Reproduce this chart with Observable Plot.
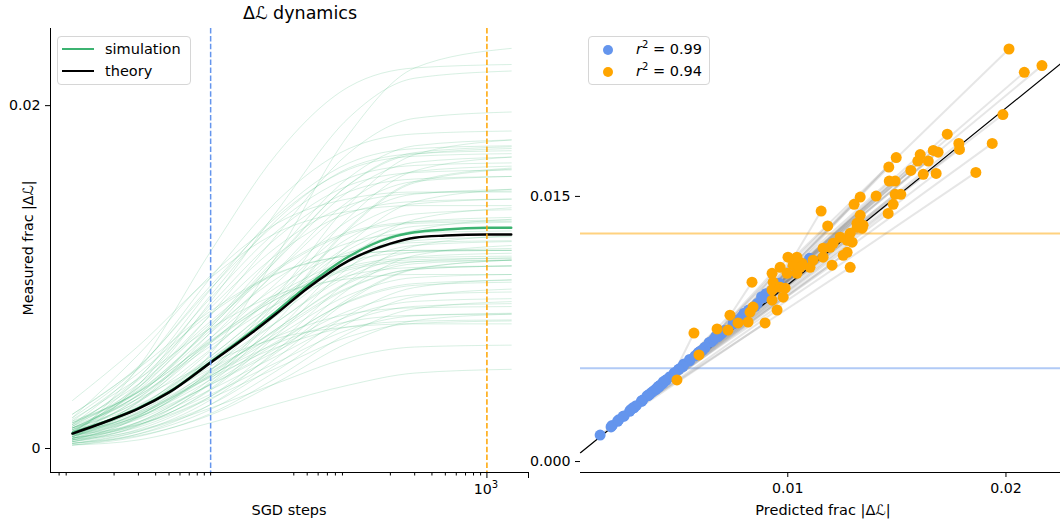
<!DOCTYPE html>
<html><head><meta charset="utf-8">
<script src="https://cdn.jsdelivr.net/npm/d3@7"></script>
<script src="https://cdn.jsdelivr.net/npm/@observablehq/plot@0.6"></script>
<style>
body{margin:0;background:#fff;font-family:"DejaVu Sans",sans-serif;}
#wrap{position:relative;width:1060px;height:523px;overflow:hidden;background:#fff;}
#wrap svg{position:absolute;top:0;}
.lbl{position:absolute;font-size:14.5px;line-height:17px;color:#000;white-space:nowrap;}
.legend{position:absolute;background:rgba(255,255,255,0.8);border:1px solid #d6d6d6;border-radius:4px;}
.legend .t{position:absolute;font-size:14.5px;line-height:16px;white-space:nowrap;color:#000;}
</style></head><body><div id="wrap"></div>
<script>
// ---- left panel: trajectories (times in SGD steps) ----
const simTimes = [1, 3, 10, 30, 100, 300, 1500];
const simAt1 = [0.0005,0.0006,0.0010,0.0012,0.0008,0.0006,0.0014,0.0011,0.0009,0.0018,0.0020,0.0007,0.0012,0.0005,0.0010,0.0015,0.0008,0.0013,0.0004,0.0016,0.0009,0.0011,0.0006,0.0014,0.0018,0.0010,0.0007,0.0005,0.0028,0.0015,0.0012,0.0008,0.0006,0.0010,0.0013,0.0009,0.0007,0.0011,0.0004,0.0012,0.0008,0.0010,0.0003,0.0006,0.0002,0.0005,0.0009,0.0011,0.0007,0.0014,0.0016,0.0012,0.0020,0.0015,0.0010,0.0013,0.0009,0.0006,0.0008,0.0017,0.0008,0.0005,0.0004,0.0003,0.0007,0.0002,0.0003,0.0009,0.0006,0.0005,0.0007,0.0004,0.0008,0.0010,0.0012,0.0003,0.0002];
const simAt3 = [0.00187,0.00474,0.00352,0.00341,0.00183,0.00155,0.00465,0.00313,0.00408,0.00473,0.00479,0.00273,0.00316,0.0037,0.00196,0.00336,0.00268,0.00414,0.00135,0.00331,0.00374,0.00278,0.00147,0.00399,0.00548,0.00357,0.00236,0.00131,0.00598,0.00375,0.00273,0.00232,0.00137,0.00246,0.00357,0.00234,0.00212,0.0033,0.00112,0.00254,0.00295,0.00233,0.00099,0.00193,0.00085,0.00177,0.00293,0.00233,0.00193,0.00327,0.00439,0.00308,0.00468,0.0033,0.00216,0.00308,0.00201,0.00181,0.00141,0.00407,0.00187,0.00106,0.00153,0.00084,0.00171,0.0007,0.00075,0.00184,0.00154,0.00139,0.00206,0.00124,0.00207,0.00238,0.0029,0.00099,0.0005];
const simAt10 = [0.00552,0.0115,0.00857,0.00783,0.00458,0.00407,0.00996,0.00718,0.00928,0.0095,0.00933,0.00678,0.00707,0.00894,0.00452,0.00708,0.00644,0.00878,0.0039,0.00674,0.00839,0.00615,0.00379,0.00821,0.01009,0.00778,0.00569,0.00348,0.00996,0.00742,0.00578,0.00536,0.00341,0.00539,0.00728,0.00522,0.00496,0.0069,0.00304,0.00521,0.00646,0.00499,0.00284,0.00459,0.00257,0.00432,0.00623,0.0048,0.0044,0.00631,0.00787,0.00616,0.00802,0.00625,0.00447,0.00598,0.00423,0.00422,0.00304,0.00702,0.004,0.00256,0.00379,0.00228,0.00373,0.00204,0.00196,0.00372,0.00343,0.00316,0.00427,0.00293,0.00415,0.00464,0.00502,0.00236,0.0015];
const simAt30 = [0.01123,0.01717,0.01382,0.01244,0.00888,0.00801,0.01441,0.01141,0.01364,0.0135,0.01314,0.01101,0.01114,0.01332,0.00852,0.01096,0.01036,0.01266,0.00787,0.0103,0.01228,0.00965,0.00742,0.01175,0.01312,0.0113,0.00915,0.00686,0.01258,0.01049,0.00897,0.00853,0.0066,0.00844,0.01038,0.00823,0.00791,0.00991,0.00604,0.008,0.0094,0.00775,0.00572,0.00735,0.00527,0.00697,0.009,0.00738,0.00698,0.00886,0.01017,0.00873,0.01022,0.00871,0.00689,0.00841,0.00654,0.00673,0.00559,0.00897,0.00623,0.0049,0.00614,0.00453,0.00584,0.00413,0.00384,0.00568,0.00539,0.00501,0.00613,0.00469,0.00589,0.00653,0.00642,0.0038,0.0026];
const simAt100 = [0.01832,0.0211,0.01929,0.01723,0.01422,0.01289,0.01749,0.0158,0.01665,0.01628,0.01578,0.0154,0.01538,0.01636,0.01348,0.01499,0.01443,0.01535,0.0128,0.01401,0.01497,0.0133,0.01193,0.0142,0.01457,0.01374,0.01275,0.01106,0.01383,0.01262,0.01228,0.01183,0.01056,0.01161,0.01253,0.01135,0.01098,0.01199,0.00977,0.0109,0.01144,0.01063,0.0093,0.01023,0.00862,0.00973,0.01092,0.01005,0.00965,0.01063,0.01126,0.01052,0.01127,0.01042,0.0094,0.01009,0.00895,0.00934,0.00875,0.0099,0.00854,0.0078,0.00859,0.00732,0.00803,0.00673,0.00618,0.00772,0.00743,0.00693,0.00741,0.00652,0.0071,0.00784,0.00709,0.00529,0.0037];
const simAt300 = [0.0222,0.0222,0.0216,0.01926,0.01714,0.01557,0.01835,0.01766,0.01749,0.01705,0.01651,0.01726,0.01717,0.0172,0.0162,0.01669,0.01616,0.0161,0.0155,0.01558,0.01572,0.01484,0.01439,0.01488,0.01496,0.01441,0.01427,0.01336,0.01417,0.01321,0.01368,0.01323,0.01273,0.01296,0.01313,0.01267,0.01228,0.01257,0.01181,0.01213,0.01201,0.01185,0.01126,0.01145,0.01045,0.0109,0.01145,0.01118,0.01078,0.01112,0.01156,0.01101,0.01156,0.0109,0.01046,0.01056,0.00997,0.01045,0.01048,0.01015,0.00952,0.00939,0.00962,0.00885,0.00896,0.00815,0.00746,0.00858,0.00829,0.00774,0.00777,0.0073,0.00743,0.00821,0.00727,0.00592,0.0044];
const simAt1500 = [0.02334,0.0224,0.02202,0.01963,0.018,0.01636,0.01852,0.018,0.01766,0.0172,0.01666,0.0176,0.0175,0.01737,0.017,0.017,0.01647,0.01625,0.0163,0.01587,0.01587,0.01512,0.01512,0.01502,0.01496,0.01455,0.01455,0.01404,0.01417,0.01333,0.01393,0.01348,0.01337,0.0132,0.01325,0.01291,0.01252,0.01269,0.01241,0.01235,0.01212,0.01207,0.01184,0.01167,0.01099,0.01111,0.01156,0.01139,0.01099,0.01122,0.01156,0.01111,0.01156,0.01099,0.01065,0.01065,0.01015,0.01065,0.01099,0.01015,0.0097,0.00986,0.00981,0.0093,0.00913,0.00857,0.00784,0.00874,0.00845,0.00789,0.00784,0.00744,0.0075,0.00828,0.00727,0.00603,0.00462];

const curveTimes = [1, 2, 3, 5, 10, 20, 30, 50, 100, 200, 300, 500, 1000, 1500];
const theoryValues = [0.00087,0.00175,0.00233,0.00327,0.00501,0.00676,0.00787,0.00933,0.01096,0.01195,0.0123,0.01242,0.01248,0.01248];
const meanValues = [0.0009,0.00176,0.00235,0.0033,0.00505,0.00685,0.008,0.00948,0.0112,0.0123,0.01261,0.01277,0.01287,0.01288];

const markTimes = [10, 1000];           // dashed verticals
const minorTicks = [0.8,0.9,2,3,4,5,6,7,8,9,10,40,50,60,70,80,90,200,300,400,500,600,700,800,900];
const majorTicks = [1000, 2000];
const xDomainLeft = [0.693, 2000];
const yDomainLeft = [-0.0014, 0.0245];
const yTicksLeft = [0, 0.02];

// ---- right panel: predicted vs measured ----
const predEarly = [0.00524,0.011,0.0082,0.0075,0.0044,0.00395,0.0095,0.0069,0.0089,0.009,0.0088,0.0065,0.0068,0.0086,0.0043,0.0067,0.0062,0.0085,0.00375,0.0064,0.008,0.0059,0.00365,0.0079,0.0096,0.0075,0.0055,0.00335,0.0095,0.0071,0.0055,0.00515,0.0033,0.0052,0.007,0.005,0.0048,0.0066,0.00295,0.005,0.0062,0.0048,0.00275,0.0044,0.0025,0.00415,0.006,0.0046,0.00425,0.0061,0.0076,0.0059,0.0077,0.006,0.0043,0.00575,0.0041,0.00405,0.0029,0.0067,0.00385,0.00245,0.00365,0.0022,0.0036,0.00195,0.0019,0.00355,0.0033,0.00305,0.0041,0.0028,0.004,0.00445,0.0048,0.00225,0.0014];
const predLate = [0.02014,0.02165,0.02084,0.01986,0.01937,0.01862,0.01731,0.01784,0.01787,0.01497,0.01463,0.01667,0.01689,0.01607,0.01596,0.01644,0.01564,0.01621,0.0168,0.01465,0.01492,0.01492,0.01518,0.01405,0.01332,0.01304,0.01483,0.0146,0.01153,0.01183,0.01332,0.01317,0.01345,0.01341,0.01318,0.01286,0.01272,0.0124,0.01295,0.01208,0.01194,0.01162,0.01272,0.01254,0.01286,0.01203,0.01162,0.01116,0.01102,0.01065,0.01042,0.01024,0.01001,0.00965,0.00997,0.00928,0.00933,0.01042,0.01056,0.00836,0.00928,0.00965,0.00988,0.00979,0.00928,0.00951,0.00896,0.00841,0.00827,0.00818,0.00772,0.00726,0.00676,0.00735,0.0057,0.00593,0.00492];
const meanEarly = 0.00528, meanLate = 0.0129;
const xDomainRight = [0.0005, 0.0225];
const yDomainRight = [-0.00062, 0.0245];
const xTicksRight = [0.01, 0.02];
const yTicksRight = [0, 0.015];
const r2Labels = ["0.99", "0.94"];

// ---- build tables ----
const simCols = [simAt1, simAt3, simAt10, simAt30, simAt100, simAt300, simAt1500];
const simRows = [];
simAt1.forEach((_, i) => simCols.forEach((col, j) => simRows.push({id: i, t: simTimes[j], v: col[i]})));
const theoryRows = curveTimes.map((t, i) => ({t, v: theoryValues[i]}));
const meanRows = curveTimes.map((t, i) => ({t, v: meanValues[i]}));
const pairs = predEarly.map((pe, i) => ({pe, me: simAt10[i], pl: predLate[i], ml: simAt1500[i]}));
const diag = xDomainRight.map(v => ({p: v, m: v}));

const svgStyle = {background: "transparent", fontFamily: "DejaVu Sans, sans-serif", fontSize: "14.2px", overflow: "visible", color: "#000"};

const left = Plot.plot({
  width: 540, height: 523, marginLeft: 50, marginRight: 12, marginTop: 28, marginBottom: 51,
  style: svgStyle,
  x: {type: "log", domain: xDomainLeft},
  y: {domain: yDomainLeft},
  marks: [
    Plot.line(simRows, {x: "t", y: "v", z: "id", stroke: "mediumseagreen", strokeOpacity: 0.2, strokeWidth: 1, curve: "monotone-x"}),
    Plot.line(meanRows, {x: "t", y: "v", stroke: "mediumseagreen", strokeWidth: 2.5, curve: "monotone-x"}),
    Plot.line(theoryRows, {x: "t", y: "v", stroke: "black", strokeWidth: 2.5, curve: "monotone-x"}),
    Plot.ruleX([markTimes[0]], {stroke: "cornflowerblue", strokeWidth: 1.5, strokeDasharray: "5.5,2.4"}),
    Plot.ruleX([markTimes[1]], {stroke: "orange", strokeWidth: 1.5, strokeDasharray: "5.5,2.4"}),
    Plot.ruleX([xDomainLeft[0]], {stroke: "black", strokeWidth: 1}),
    Plot.ruleY([yDomainLeft[0]], {stroke: "black", strokeWidth: 1}),
    Plot.axisX(minorTicks, {tickSize: 3.5, tickFormat: () => "", label: null}),
    Plot.axisX(majorTicks, {tickSize: 6, tickFormat: () => "", label: null}),
    Plot.axisY(yTicksLeft, {tickSize: 5, tickPadding: 5, tickFormat: d => d === 0 ? "0" : "0.02", label: null})
  ]
});

const right = Plot.plot({
  width: 540, height: 523, marginLeft: 60, marginRight: 0, marginTop: 28, marginBottom: 51,
  style: svgStyle,
  x: {domain: xDomainRight},
  y: {domain: yDomainRight},
  marks: [
    Plot.ruleY([meanEarly], {stroke: "cornflowerblue", strokeOpacity: 0.5, strokeWidth: 2}),
    Plot.ruleY([meanLate], {stroke: "orange", strokeOpacity: 0.5, strokeWidth: 2}),
    Plot.link(pairs, {x1: "pe", y1: "me", x2: "pl", y2: "ml", stroke: "gray", strokeOpacity: 0.2, strokeWidth: 2}),
    Plot.line(diag, {x: "p", y: "m", stroke: "black", strokeWidth: 1.2}),
    Plot.dot(pairs, {x: "pe", y: "me", r: 5.5, fill: "cornflowerblue"}),
    Plot.dot(pairs, {x: "pl", y: "ml", r: 5.5, fill: "orange"}),
    Plot.ruleY([yDomainRight[0]], {stroke: "black", strokeWidth: 1}),
    Plot.axisX(xTicksRight, {tickSize: 5, tickPadding: 5, tickFormat: d3.format(".2f"), label: null}),
    Plot.axisY(yTicksRight, {tickSize: 5, tickPadding: 5, tickFormat: d3.format(".3f"), label: null})
  ]
});

const wrap = document.getElementById("wrap");
left.style.left = "0px";
right.style.left = "520px";
wrap.appendChild(left);
wrap.appendChild(right);

function addDiv(html, css, cls) {
  const d = document.createElement("div");
  d.className = cls || "lbl";
  d.style.cssText = css;
  d.innerHTML = html;
  wrap.appendChild(d);
  return d;
}
addDiv("Δℒ dynamics", "left:0;width:600px;text-align:center;top:3px;font-size:17.5px;line-height:20px;");
addDiv('10<span style="font-size:10px;position:relative;top:-6px">3</span>', "left:466px;width:40px;text-align:center;top:481px;font-size:14.2px;");
addDiv("SGD steps", "left:189px;width:200px;text-align:center;top:502px;");
addDiv("Predicted frac |Δℒ|", "left:723px;width:200px;text-align:center;top:502px;");
addDiv("Measured frac |Δℒ|", "left:28px;top:248px;font-size:14.2px;transform:translate(-50%,-50%) rotate(-90deg);");

addDiv(
  '<div style="position:absolute;left:4px;top:11px;width:32px;height:2.2px;background:mediumseagreen"></div>' +
  '<div class="t" style="left:47px;top:4px">simulation</div>' +
  '<div style="position:absolute;left:4px;top:33px;width:32px;height:2.2px;background:black"></div>' +
  '<div class="t" style="left:47px;top:26px">theory</div>',
  "left:57px;top:36px;width:132px;height:47px;", "legend");

const dot = c => `<div style="position:absolute;left:14px;width:10px;height:10px;border-radius:50%;background:${c};`;
addDiv(
  dot("cornflowerblue") + 'top:8px"></div>' +
  `<div class="t" style="left:47px;top:4px"><i>r</i><span style="font-size:10px;position:relative;top:-6px">2</span> = ${r2Labels[0]}</div>` +
  dot("orange") + 'top:30px"></div>' +
  `<div class="t" style="left:47px;top:26px"><i>r</i><span style="font-size:10px;position:relative;top:-6px">2</span> = ${r2Labels[1]}</div>`,
  "left:588px;top:36px;width:120px;height:47px;", "legend");
</script></body></html>
